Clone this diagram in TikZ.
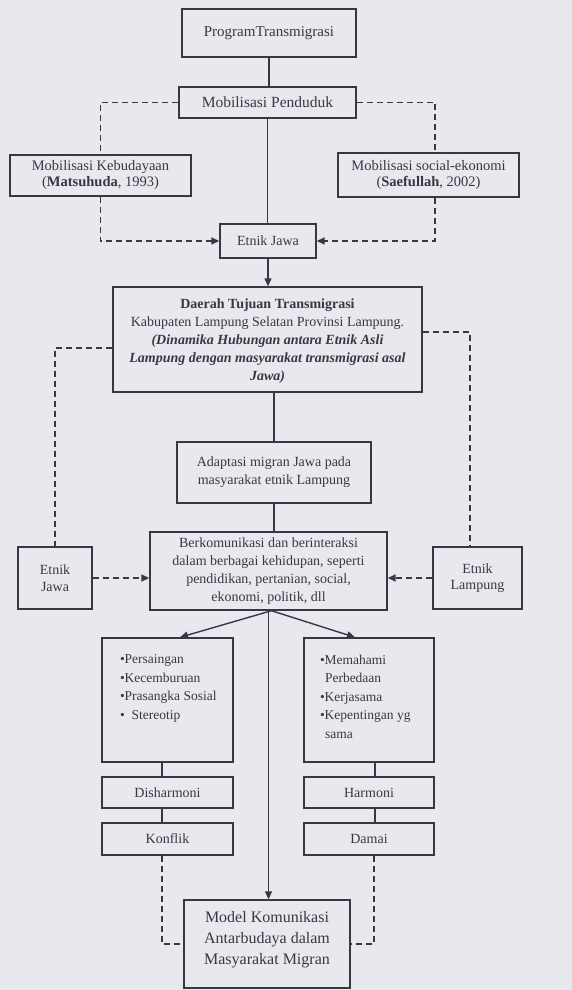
\documentclass[tikz,border=0pt]{standalone}
\usepackage{fontspec}
\setmainfont{Liberation Serif}
\usetikzlibrary{arrows.meta,calc}
\definecolor{bg}{HTML}{E8E8EF}
\definecolor{ink}{HTML}{383842}
\begin{document}
\begin{tikzpicture}[x=1pt,y=-1pt,
  box/.style={draw=ink, line width=1.4pt, text=ink, inner sep=0pt, align=center, font=\fontsize{14}{18}\selectfont},
  conn/.style={draw=ink, line width=1.4pt},
  dconn/.style={conn, line width=1.6pt, dash pattern=on 6pt off 4pt},
  arr/.style={-{Triangle[length=8pt,width=7pt]}}
]
\fill[bg] (0,0) rectangle (572,990);
\useasboundingbox (0,0) rectangle (572,990);

\node[box, minimum width=174pt, minimum height=48pt, font=\fontsize{15}{18}\selectfont] (prog) at (269,33) {ProgramTransmigrasi};
\node[box, minimum width=177pt, minimum height=31pt, font=\fontsize{15.5}{18}\selectfont] (mob) at (267.5,102.5) {Mobilisasi Penduduk};
\node[box, minimum width=181pt, minimum height=41pt, font=\fontsize{14.5}{16}\selectfont] (keb) at (100.5,175.5) {Mobilisasi Kebudayaan\\(\textbf{Matsuhuda}, 1993)};
\node[box, minimum width=181pt, minimum height=44pt, font=\fontsize{14.5}{16}\selectfont] (sos) at (428.5,175) {Mobilisasi social-ekonomi\\(\textbf{Saefullah}, 2002)};
\node[box, minimum width=96pt, minimum height=34pt] (ej) at (268,241) {Etnik Jawa};
\node[box, minimum width=309pt, minimum height=105pt] (daerah) at (267.5,339.5) {\\[-6pt]\textbf{Daerah Tujuan Transmigrasi}\\Kabupaten Lampung Selatan Provinsi Lampung.\\\textbf{\textit{(Dinamika Hubungan antara Etnik Asli}}\\\textbf{\textit{Lampung dengan masyarakat transmigrasi asal}}\\\textbf{\textit{Jawa)}}};
\node[box, minimum width=194pt, minimum height=61pt] (adapt) at (274,472.5) {Adaptasi migran Jawa pada\\masyarakat etnik Lampung};
\node[box, minimum width=237pt, minimum height=78pt] (berk) at (268.5,571) {Berkomunikasi dan berinteraksi\\dalam berbagai kehidupan, seperti\\pendidikan, pertanian, social,\\ekonomi, politik, dll};
\node[box, minimum width=74pt, minimum height=62pt, font=\fontsize{14}{16.5}\selectfont] (ej2) at (55,578) {Etnik\\Jawa};
\node[box, minimum width=89pt, minimum height=62pt, font=\fontsize{14}{16.5}\selectfont] (lamp) at (477.5,578) {Etnik\\Lampung};
\node[box, minimum width=131pt, minimum height=124pt, font=\fontsize{13.5}{18.5}\selectfont] (lbox) at (167.5,700)
  {\parbox[c][124pt][t]{131pt}{\raggedright\leftskip=18pt\vspace*{17pt}•Persaingan\par •Kecemburuan\par •Prasangka Sosial\par •\hspace{7pt}Stereotip}};
\node[box, minimum width=130pt, minimum height=124pt, font=\fontsize{13.5}{18.5}\selectfont] (rbox) at (369,700)
  {\parbox[c][124pt][t]{130pt}{\raggedright\leftskip=16pt\vspace*{17pt}•Memahami\par \hspace*{5pt}Perbedaan\par •Kerjasama\par •Kepentingan yg\par \hspace*{5pt}sama}};
\node[box, minimum width=131pt, minimum height=31pt] (dis) at (167.5,792.5) {Disharmoni};
\node[box, minimum width=131pt, minimum height=32pt] (kon) at (167.5,839) {Konflik};
\node[box, minimum width=130pt, minimum height=31pt] (har) at (369,792.5) {Harmoni};
\node[box, minimum width=130pt, minimum height=32pt] (dam) at (369,839) {Damai};
\node[box, minimum width=166pt, minimum height=88pt, font=\fontsize{16}{21}\selectfont] (model) at (267,944)
  {\parbox[c][88pt][t]{166pt}{\centering\vspace*{11pt}Model Komunikasi\\Antarbudaya dalam\\Masyarakat Migran}};

% connectors
\draw[conn] (prog.south) -- (prog.south |- mob.north);
\draw[conn] (mob.south) -- (mob.south |- ej.north);
\draw[dconn] (mob.west) -| (keb.north);
\draw[dconn] (mob.east) -| ([xshift=6.5pt]sos.north);
\draw[dconn,arr] (keb.south) |- (ej.west);
\draw[dconn,arr] ([xshift=6.5pt]sos.south) |- (ej.east);
\draw[conn,arr] (ej.south) -- (ej.south |- daerah.north);
\draw[dconn] ([yshift=-8.5pt]daerah.west) -| (ej2.north);
\draw[dconn] ([yshift=7.5pt]daerah.east) -| ([xshift=-7.5pt]lamp.north);
\draw[conn] (adapt.north |- daerah.south) -- (adapt.north);
\draw[conn] (adapt.south) -- (adapt.south |- berk.north);
\draw[dconn,arr] (ej2.east) -- (ej2.east -| berk.west);
\draw[dconn,arr] (lamp.west) -- (lamp.west -| berk.east);
\draw[conn,arr] ([xshift=3pt]berk.south) -- ([xshift=12.5pt]lbox.north);
\draw[conn,arr] ([xshift=3pt]berk.south) -- ([xshift=-14pt]rbox.north);
\draw[conn,arr] (berk.south) -- (berk.south |- model.north);
\draw[conn] ([xshift=-5.5pt]lbox.south) -- ([xshift=-5.5pt]dis.north);
\draw[conn] ([xshift=-5.5pt]dis.south) -- ([xshift=-5.5pt]kon.north);
\draw[conn] ([xshift=6pt]rbox.south) -- ([xshift=6pt]har.north);
\draw[conn] ([xshift=6pt]har.south) -- ([xshift=6pt]dam.north);
\draw[dconn] ([xshift=-5.5pt]kon.south) |- (model.west);
\draw[dconn] ([xshift=5pt]dam.south) |- (model.east);
\end{tikzpicture}
\end{document}
